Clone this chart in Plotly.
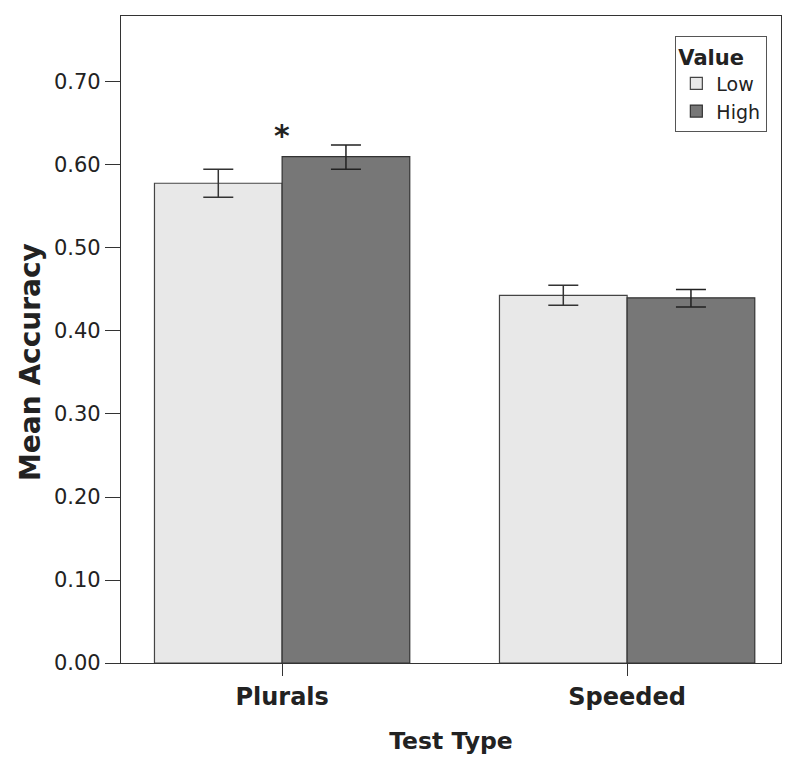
import plotly.graph_objects as go

categories = ["<b>Plurals</b>", "<b>Speeded</b>"]
low_vals = [0.578, 0.443]
low_err_plus = [0.017, 0.012]
low_err_minus = [0.017, 0.012]
high_vals = [0.610, 0.440]
high_err_plus = [0.014, 0.010]
high_err_minus = [0.015, 0.011]
y_ticks = [0.0, 0.1, 0.2, 0.3, 0.4, 0.5, 0.6, 0.7]

fig = go.Figure()
fig.add_trace(go.Bar(
    name="Low", x=categories, y=low_vals,
    marker=dict(color="#e8e8e8", line=dict(color="#444444", width=1.2)),
    error_y=dict(type="data", array=low_err_plus, arrayminus=low_err_minus,
                 color="#333333", thickness=1.5, width=15),
))
fig.add_trace(go.Bar(
    name="High", x=categories, y=high_vals,
    marker=dict(color="#777777", line=dict(color="#333333", width=1.2)),
    error_y=dict(type="data", array=high_err_plus, arrayminus=high_err_minus,
                 color="#222222", thickness=1.5, width=15),
))

fig.add_annotation(x=0, y=0.635, text="<b>*</b>", showarrow=False,
                   font=dict(size=30, color="#222222", family="DejaVu Sans"),
                   xanchor="center", yanchor="middle")

# y-axis title as annotation (positioned like the reference)
fig.add_annotation(xref="paper", yref="paper", x=(30 - 121) / 660, y=(663 - 362) / 647,
                   text="<b>Mean Accuracy</b>", textangle=-90, showarrow=False,
                   font=dict(size=28, color="#222222", family="DejaVu Sans"),
                   xanchor="center", yanchor="middle")

fig.update_layout(
    width=800, height=762,
    margin=dict(l=113, r=27, t=8, b=107),
    paper_bgcolor="white", plot_bgcolor="white",
    barmode="group", bargap=0.26, bargroupgap=0,
    font=dict(family="DejaVu Sans", color="#222222"),
    legend=dict(
        title=dict(text="<b>Value</b>", font=dict(size=21), side="top"),
        x=0.979, y=0.969, xanchor="right", yanchor="top",
        bordercolor="#555555", borderwidth=1.2, bgcolor="white",
        font=dict(size=19), itemwidth=30,
        tracegroupgap=0,
    ),
    showlegend=True,
)
fig.update_xaxes(
    type="category", range=[-0.467, 1.446],
    showline=True, linecolor="#333333", linewidth=1.2, mirror=True,
    ticks="outside", ticklen=12, tickcolor="#333333",
    tickfont=dict(size=24, family="DejaVu Sans", color="#222222"),
    title=dict(text="<b>Test Type</b>", font=dict(size=23.5), standoff=22),
    showgrid=False,
)
fig.update_yaxes(
    range=[0, 0.7795], tickvals=y_ticks, tickformat=".2f",
    showline=True, linecolor="#333333", linewidth=1.2, mirror=True,
    ticks="outside", ticklen=15, tickcolor="#333333",
    tickfont=dict(size=21, family="DejaVu Sans", color="#222222"),
    showgrid=False, zeroline=False,
)

fig.write_html("out.html")
